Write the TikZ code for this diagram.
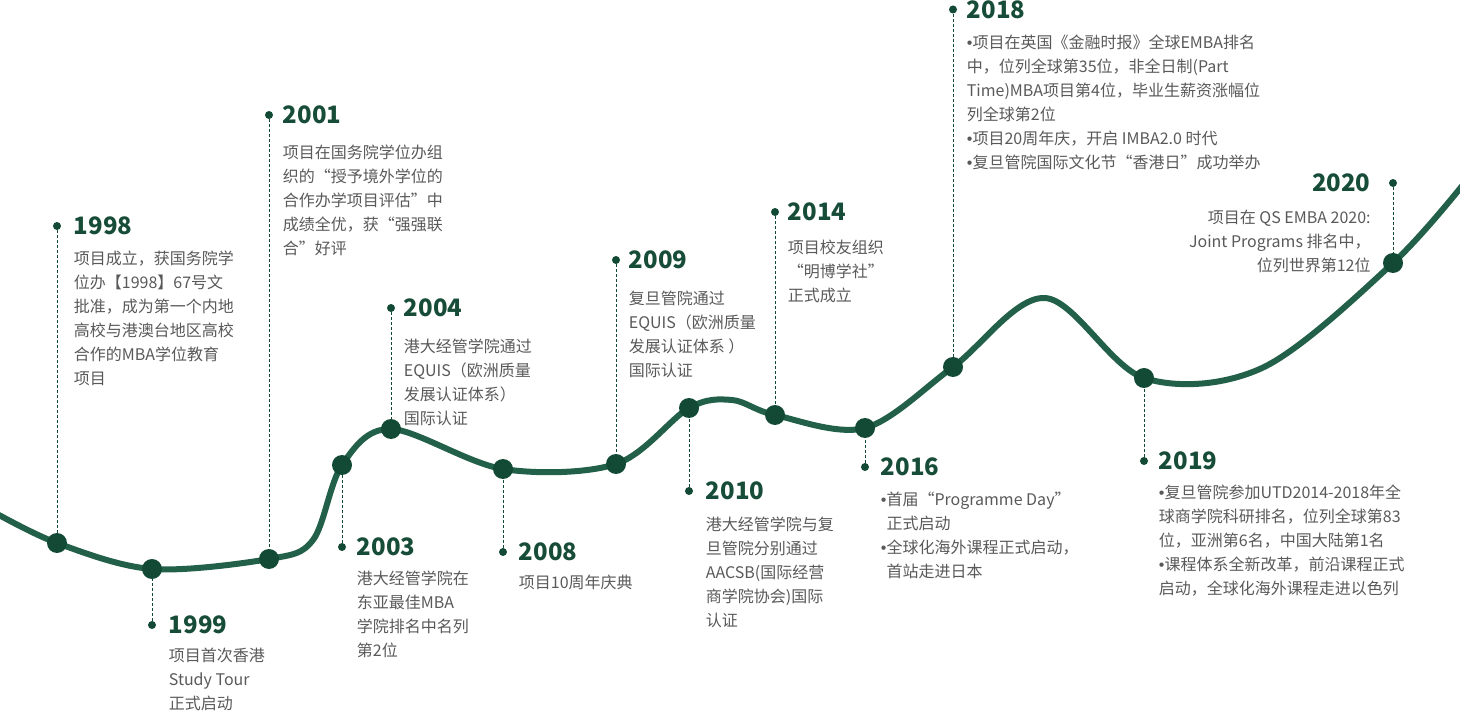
\documentclass[tikz,border=0pt]{standalone}
\usepackage{fontspec}
\setmainfont{Noto Sans CJK SC}
\newfontfamily\bulletfont{Liberation Sans}
\newcommand\bul{{\bulletfont •}}
\usetikzlibrary{positioning}
\definecolor{linegreen}{HTML}{23604A}
\definecolor{dotgreen}{HTML}{134A35}
\definecolor{yeargreen}{HTML}{174D38}
\definecolor{textgray}{HTML}{595959}
\tikzset{
  bigdot/.style={circle, fill=dotgreen, inner sep=0pt, minimum size=20pt},
  tipdot/.style={circle, fill=dotgreen, inner sep=0pt, minimum size=8pt},
  stem/.style={dotgreen, line width=1pt, dash pattern=on 3pt off 2pt},
  year/.style={inner sep=0pt, text=yeargreen, font=\fontsize{24}{28}\selectfont\bfseries},
  desc/.style={inner sep=0pt, text=textgray, align=left, font=\fontsize{16}{24}\selectfont},
}

\begin{document}
\begin{tikzpicture}[x=1pt, y=-1pt]
\useasboundingbox (0,0) rectangle (1460,711);

\foreach \yr/\x/\cy/\ty in {1998/57/543/226, 1999/152/569/625, 2001/269/559/115,
    2003/342/465/547, 2004/391/429/308, 2008/503/469/552, 2009/616/464/260,
    2010/689/408/491, 2014/775/415/212, 2016/865/428/467, 2018/953/367/9.5,
    2019/1144/378/461, 2020/1393/263/183}
  {
  \coordinate (c\yr) at (\x,\cy);
  \node[tipdot] (t\yr) at (\x,\ty) {};
  }

\draw[linegreen, line width=6pt] plot[smooth, tension=0.55] coordinates {(-10,510) (c1998) (c1999) (c2001)
  (313,540) (c2003) (c2004) (c2008) (c2009) (c2010) (732,400) (c2014) (c2016) (c2018) (1045,298) (c2019)
  (1262,368) (c2020) (1470,176)};

\foreach \yr in {1998,1999,2001,2003,2004,2008,2009,2010,2014,2016,2018,2019,2020}
  {
  \node[bigdot] (p\yr) at (c\yr) {};
  \draw[stem] (t\yr) -- (p\yr);
  }

\foreach \yr/\g in {1998/12.5pt, 1999/12.5pt, 2001/9.5pt, 2003/10.5pt, 2004/8.5pt, 2008/11.5pt,
    2009/8.5pt, 2010/12.5pt, 2014/8.5pt, 2016/11.5pt, 2018/9.5pt, 2019/10.5pt}
  \node[year, right=\g of t\yr] (y\yr) {\yr};
\node[year, left=18pt of t2020] (y2020) {2020};

\node[desc, below right=15pt and 0pt of y1998.south west] (d1998)
  {项目成立，获国务院学\\位办【1998】67号文\\批准，成为第一个内地\\高校与港澳台地区高校\\合作的MBA学位教育\\项目};
\node[desc, below right=14pt and 0pt of y1999.south west] (d1999)
  {项目首次香港\\Study Tour\\正式启动};
\node[desc, below right=20pt and 0pt of y2001.south west] (d2001)
  {项目在国务院学位办组\\织的“授予境外学位的\\合作办学项目评估”中\\成绩全优，获“强强联\\合”好评};
\node[desc, below right=14pt and 0pt of y2003.south west] (d2003)
  {港大经管学院在\\东亚最佳MBA\\学院排名中名列\\第2位};
\node[desc, below right=21pt and 0pt of y2004.south west] (d2004)
  {港大经管学院通过\\EQUIS（欧洲质量\\发展认证体系）\\国际认证};
\node[desc, below right=14pt and 0pt of y2008.south west] (d2008)
  {项目10周年庆典};
\node[desc, below right=21pt and 0pt of y2009.south west] (d2009)
  {复旦管院通过\\EQUIS（欧洲质量\\发展认证体系 ）\\国际认证};
\node[desc, below right=16pt and 0pt of y2010.south west] (d2010)
  {港大经管学院与复\\旦管院分别通过\\AACSB(国际经营\\商学院协会)国际\\认证};
\node[desc, below right=19pt and 0pt of y2014.south west] (d2014)
  {项目校友组织\\“明博学社”\\正式成立};
\node[desc, below right=15pt and 0pt of y2016.south west] (d2016)
  {\bul 首届“Programme Day”\\\phantom{\bul}正式启动\\\bul 全球化海外课程正式启动，\\\phantom{\bul}首站走进日本};
\node[desc, below right=15.5pt and 0pt of y2018.south west] (d2018)
  {\bul 项目在英国《金融时报》全球EMBA排名\\中，位列全球第35位，非全日制(Part\\Time)MBA项目第4位，毕业生薪资涨幅位\\列全球第2位\\\bul 项目20周年庆，开启 IMBA2.0 时代\\\bul 复旦管院国际文化节“香港日”成功举办};
\node[desc, below right=14pt and 0pt of y2019.south west] (d2019)
  {\bul 复旦管院参加UTD2014-2018年全\\球商学院科研排名，位列全球第83\\位，亚洲第6名，中国大陆第1名\\\bul 课程体系全新改革，前沿课程正式\\启动，全球化海外课程走进以色列};
\node[desc, align=right, below left=18pt and 0pt of y2020.south east] (d2020)
  {项目在 QS EMBA 2020:\\Joint Programs 排名中，\\位列世界第12位};
\end{tikzpicture}
\end{document}
